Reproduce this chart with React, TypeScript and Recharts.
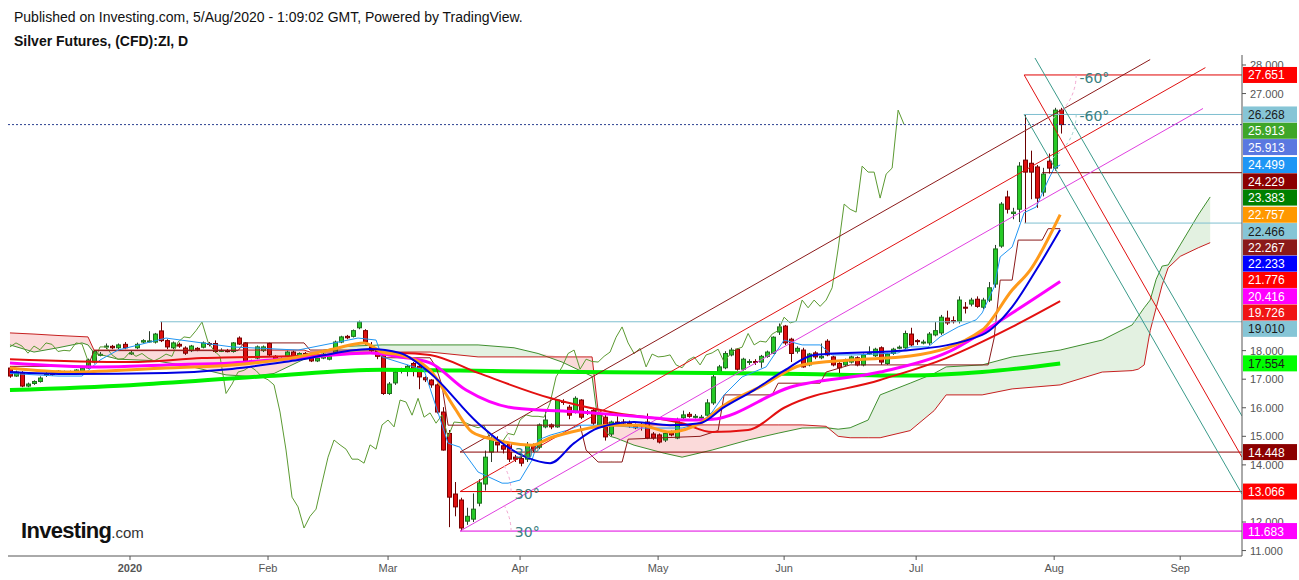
import React from "react";
import { ComposedChart, XAxis, YAxis, Line, Area, Bar, ReferenceLine, ReferenceDot } from "recharts";

const W = 1299;
const H = 580;
const PLOT_TOP = 55;
const PLOT_BOTTOM = 556;
const Y_MIN = 10.81;
const Y_MAX = 28.35;
const X_MIN = -0.33;
const X_MAX = 205.3;

// ---- candles (one per trading day, index 0 = early Dec 2019) ----
const candleOpen = [
  17.39, 17.11, 17.22, 16.76, 16.85, 16.92, 17.15, 17.2, 17.2, 17.25, 17.25, 17.18, 17.28, 17.39, 17.6, 17.85, 18.14, 18.15, 18.1, 18.22,
  17.9, 18.1, 18.3, 18.33, 18.3, 18.69, 18.35, 18.1, 18.22, 18.09, 18.0, 18.08, 18.12, 18.25, 18.25, 18.0, 18.0, 17.97, 18.44, 18.27,
  17.64, 17.74, 18.0, 18.25, 17.8, 17.7, 17.8, 17.95, 17.8, 17.9, 17.74, 17.64, 17.74, 17.7, 17.9, 18.3, 18.5, 18.5, 18.8, 18.7,
  18.13, 18.0, 17.85, 16.5, 16.87, 17.3, 17.28, 17.55, 17.45, 17.05, 16.97, 16.8, 15.85, 15.1, 12.98, 12.77, 12.03, 12.1, 12.66, 13.33,
  14.45, 14.8, 14.67, 14.75, 14.27, 14.22, 14.2, 14.67, 14.62, 15.33, 15.4, 15.33, 16.22, 16.02, 15.85, 16.27, 15.85, 15.9, 15.4, 15.67,
  15.08, 15.5, 15.5, 15.45, 15.35, 15.4, 15.5, 15.08, 15.05, 14.87, 15.12, 14.94, 15.65, 15.77, 15.7, 15.65, 15.74, 16.17, 17.22, 17.4,
  17.85, 18.05, 17.35, 17.6, 17.62, 17.6, 17.8, 17.9, 18.65, 18.86, 18.4, 17.98, 18.02, 17.5, 17.92, 17.75, 18.33, 17.78, 17.55, 17.5,
  17.6, 17.75, 17.5, 17.9, 17.82, 18.1, 17.55, 17.9, 18.1, 18.1, 18.58, 18.35, 18.3, 18.27, 18.55, 18.62, 19.14, 19.05, 19.03, 19.52,
  19.63, 19.8, 19.52, 19.77, 20.33, 21.66, 23.38, 22.8, 22.95, 24.67, 24.56, 24.43, 23.55, 24.63, 24.39, 26.42,
];
const candleHigh = [
  17.45, 17.3, 17.28, 16.88, 16.96, 17.1, 17.25, 17.28, 17.32, 17.3, 17.3, 17.35, 17.42, 17.72, 18.02, 17.95, 18.25, 18.2, 18.25, 18.3,
  18.0, 18.28, 18.4, 18.68, 18.62, 19.01, 18.4, 18.32, 18.28, 18.15, 18.2, 18.12, 18.32, 18.3, 18.36, 18.08, 18.06, 18.3, 18.5, 18.3,
  17.68, 18.18, 18.18, 18.28, 17.84, 17.76, 18.0, 18.0, 17.94, 17.95, 17.78, 17.78, 17.92, 17.84, 18.35, 18.52, 18.55, 18.74, 19.05, 18.75,
  18.3, 18.05, 17.9, 16.9, 17.3, 17.4, 17.5, 17.6, 17.5, 17.1, 17.0, 16.85, 16.02, 15.22, 13.4, 12.85, 12.5, 13.0, 13.5, 14.5,
  15.0, 15.0, 14.85, 14.8, 14.35, 14.3, 14.8, 14.75, 15.45, 15.9, 15.45, 16.3, 16.3, 16.1, 16.4, 16.3, 15.92, 16.0, 15.8, 15.75,
  15.55, 15.7, 15.6, 15.55, 15.45, 15.5, 15.8, 15.15, 15.1, 15.15, 15.2, 15.65, 15.9, 15.85, 15.78, 15.75, 16.3, 17.15, 17.5, 17.98,
  18.1, 18.08, 17.75, 17.7, 17.7, 17.85, 18.0, 18.5, 18.95, 18.9, 18.45, 18.15, 18.1, 17.92, 17.98, 18.25, 18.4, 17.82, 17.6, 17.72,
  17.82, 17.8, 17.9, 18.15, 18.1, 18.15, 17.92, 18.1, 18.18, 18.7, 18.8, 18.4, 18.38, 18.65, 19.0, 19.25, 19.4, 19.2, 19.9, 19.7,
  19.85, 19.9, 19.85, 20.4, 21.7, 23.2, 23.6, 23.0, 24.6, 26.268, 25.0, 24.5, 24.4, 24.9, 26.5, 26.5,
];
const candleLow = [
  17.05, 17.08, 16.72, 16.72, 16.8, 16.88, 17.08, 17.12, 17.16, 17.2, 17.2, 17.15, 17.25, 17.36, 17.55, 17.8, 18.05, 18.05, 18.05, 18.05,
  17.85, 18.05, 18.25, 18.28, 18.25, 18.3, 18.05, 18.05, 18.1, 17.85, 17.95, 17.98, 18.08, 18.15, 17.92, 17.95, 17.94, 17.93, 18.2, 17.6,
  17.55, 17.7, 17.95, 17.8, 17.66, 17.65, 17.76, 17.76, 17.76, 17.7, 17.6, 17.6, 17.7, 17.66, 17.88, 18.26, 18.4, 18.46, 18.75, 18.2,
  17.95, 17.7, 16.45, 16.45, 16.8, 17.2, 17.1, 17.1, 16.65, 16.9, 16.7, 15.8, 14.5, 11.82, 12.2, 11.683, 11.9, 12.0, 12.55, 13.1,
  14.1, 14.45, 14.4, 14.1, 14.1, 13.95, 14.1, 14.45, 14.55, 15.28, 15.25, 15.3, 16.1, 15.6, 15.8, 15.6, 15.75, 15.4, 15.3, 14.85,
  15.0, 15.4, 15.4, 15.3, 15.25, 15.2, 14.9, 14.88, 14.75, 14.8, 15.0, 14.9, 15.6, 15.65, 15.62, 15.58, 15.7, 16.1, 17.15, 17.35,
  17.8, 17.3, 17.3, 17.5, 17.5, 17.4, 17.75, 17.88, 18.55, 18.2, 17.6, 17.9, 17.4, 17.45, 17.7, 17.7, 17.8, 17.45, 17.1, 17.45,
  17.55, 17.45, 17.45, 17.85, 17.78, 17.5, 17.5, 17.85, 18.05, 18.05, 18.15, 18.2, 18.22, 18.2, 18.5, 18.55, 18.9, 18.95, 18.95, 19.3,
  19.55, 19.5, 19.45, 19.7, 20.2, 21.6, 22.8, 22.6, 22.5, 22.466, 23.3, 23.0, 23.4, 24.2, 24.3, 25.6,
];
const candleClose = [
  17.11, 17.25, 16.76, 16.83, 16.92, 17.04, 17.18, 17.18, 17.28, 17.27, 17.23, 17.32, 17.38, 17.67, 17.98, 17.87, 18.16, 18.1, 18.2, 18.1,
  17.92, 18.22, 18.35, 18.34, 18.58, 18.35, 18.13, 18.27, 18.16, 17.91, 18.16, 18.03, 18.27, 18.22, 17.97, 18.01, 17.99, 18.27, 18.23, 17.64,
  17.6, 18.13, 18.13, 17.85, 17.7, 17.72, 17.95, 17.8, 17.9, 17.74, 17.64, 17.74, 17.88, 17.8, 18.3, 18.48, 18.45, 18.7, 19.0, 18.3,
  18.0, 17.8, 16.5, 16.83, 17.25, 17.31, 17.45, 17.3, 17.08, 16.98, 16.8, 15.85, 14.52, 12.87, 12.53, 11.79, 12.2, 12.45, 13.37, 14.27,
  14.87, 14.7, 14.55, 14.2, 14.2, 14.06, 14.7, 14.55, 15.4, 15.57, 15.33, 16.27, 16.2, 15.74, 16.33, 15.67, 15.82, 15.46, 15.75, 14.98,
  15.5, 15.48, 15.47, 15.37, 15.3, 15.38, 14.94, 14.94, 14.8, 15.1, 15.05, 15.57, 15.75, 15.7, 15.7, 15.67, 16.17, 17.08, 17.43, 17.9,
  18.02, 17.35, 17.7, 17.62, 17.6, 17.8, 17.95, 18.47, 18.83, 18.27, 17.9, 18.08, 17.43, 17.88, 17.78, 17.8, 17.85, 17.5, 17.4, 17.67,
  17.78, 17.5, 17.85, 17.92, 18.05, 17.6, 17.88, 18.05, 18.12, 18.6, 18.2, 18.33, 18.3, 18.58, 18.7, 19.17, 18.97, 19.03, 19.77, 19.5,
  19.77, 19.55, 19.77, 20.2, 21.56, 23.13, 22.95, 22.85, 24.46, 24.25, 24.25, 23.34, 24.18, 24.39, 26.42, 25.913,
];

// ---- indicator lines as [barIndex, price] ----
const ma200Pts = [[0, 16.62], [20, 16.79], [43, 17.11], [62, 17.33], [75, 17.3], [95, 17.25], [117, 17.22], [132, 17.18], [150, 17.13], [162, 17.25], [175, 17.55]];
const ma100Pts = [[0, 17.7], [20, 17.6], [32, 17.74], [48, 17.81], [60, 17.92], [65, 17.92], [70, 17.85], [78, 17.22], [90, 16.34], [100, 15.85], [112, 15.46], [117, 15.15], [123, 15.22], [129, 16.0], [145, 16.97], [156, 17.74], [167, 18.83], [175, 19.73]];
const ma50Pts = [[0, 17.57], [15, 17.43], [26, 17.5], [37, 17.57], [48, 17.74], [60, 17.92], [65, 17.78], [70, 17.57], [76, 16.62], [84, 15.99], [95, 15.85], [106, 15.67], [112, 15.57], [117, 15.6], [130, 16.72], [145, 17.25], [156, 17.92], [167, 19.32], [175, 20.42]];
const ema20Pts = [[0, 17.39], [10, 17.25], [26, 17.39], [37, 17.5], [48, 17.78], [54, 18.06], [59, 18.27], [62, 17.95], [65, 17.85], [70, 17.32], [74, 16.02], [77, 15.15], [81, 14.87], [87, 14.69], [90, 14.94], [95, 15.22], [100, 15.39], [105, 15.39], [110, 15.15], [115, 15.46], [119, 16.09], [125, 16.73], [132, 17.5], [140, 17.67], [150, 17.81], [162, 18.72], [167, 20.12], [170, 20.82], [175, 22.76]];
const sma20Pts = [[0, 17.25], [10, 17.18], [26, 17.22], [37, 17.36], [48, 17.67], [60, 18.06], [65, 17.92], [70, 17.22], [78, 15.46], [86, 14.27], [90, 14.06], [94, 14.76], [98, 15.29], [104, 15.5], [110, 15.39], [115, 15.46], [119, 16.02], [124, 16.62], [129, 17.3], [134, 17.85], [150, 18.02], [162, 18.55], [167, 19.53], [171, 20.82], [175, 22.23]];
const tenkanPts = [[0, 17.2], [8, 17.11], [12, 17.11], [15, 17.67], [18, 18.02], [26, 18.44], [32, 18.27], [37, 18.13], [48, 18.02], [54, 18.27], [58, 18.44], [61, 18.37], [62, 17.78], [69, 17.32], [73, 14.76], [75, 14.62], [78, 13.75], [82, 13.36], [83, 13.36], [85, 13.47], [87, 14.17], [88, 14.87], [90, 15.04], [93, 15.22], [95, 15.39], [100, 15.39], [105, 15.29], [112, 15.29], [115, 15.46], [117, 15.85], [119, 16.45], [122, 17.08], [126, 17.43], [129, 18.37], [132, 18.2], [135, 18.2], [137, 17.85], [141, 17.85], [148, 17.92], [150, 18.13], [153, 18.13], [155, 18.48], [158, 18.83], [161, 19.08], [162, 19.32], [164, 20.23], [165, 21.28], [167, 21.63], [169, 22.83], [171, 23.03], [173, 23.97], [174, 24.39], [175, 24.5]];
const kijunPts = [[0, 17.45], [13, 17.45], [14, 18.0], [38, 18.0], [39, 18.27], [49, 18.27], [50, 18.02], [61, 18.02], [62, 17.75], [70, 17.75], [71, 17.42], [72, 16.77], [73, 15.39], [95, 15.39], [96, 14.52], [98, 14.1], [102, 14.1], [103, 14.9], [115, 15.0], [118, 15.2], [119, 16.45], [127, 16.45], [128, 16.86], [135, 16.86], [136, 17.25], [140, 17.5], [163, 17.5], [164, 18.44], [165, 20.47], [167, 20.47], [168, 21.87], [172, 21.87], [173, 22.27], [175, 22.27]];

// ---- Ichimoku cloud, leading spans A and B (shifted ahead) ----
const cloudIndex = [0, 4, 8, 12, 13, 14, 18, 24, 30, 36, 40, 44, 48, 49, 50, 52, 56, 62, 70, 78, 84, 88, 92, 96, 97, 98, 100, 101, 104, 109, 112, 117, 123, 128, 132, 136, 138, 140, 143, 145, 150, 154, 156, 162, 167, 175, 182, 187, 188, 189, 190, 191, 192, 193, 195, 198, 200];
const spanA = [18.2, 17.95, 18.1, 18.27, 18.2, 17.92, 17.7, 17.65, 17.45, 17.15, 17.1, 17.2, 17.6, 17.7, 17.8, 18.0, 18.15, 18.2, 18.2, 18.2, 18.1, 17.9, 17.6, 17.2, 17.1, 15.5, 15.0, 14.94, 14.69, 14.41, 14.27, 14.52, 14.87, 15.11, 15.29, 15.3, 15.25, 15.3, 15.57, 16.45, 16.86, 17.2, 17.43, 17.5, 17.78, 18.02, 18.37, 18.9, 19.2, 19.5, 19.77, 20.5, 20.96, 21.0, 21.7, 22.75, 23.38];
const spanB = [18.62, 18.58, 18.53, 18.49, 18.48, 18.02, 18.02, 18.02, 18.02, 18.02, 18.02, 18.02, 18.02, 18.02, 17.95, 17.95, 17.95, 17.95, 17.95, 17.78, 17.78, 17.78, 17.78, 17.78, 17.78, 15.9, 15.4, 15.4, 15.4, 15.4, 15.4, 15.4, 15.4, 15.4, 15.4, 15.35, 15.0, 14.95, 14.95, 14.95, 15.2, 15.9, 16.45, 16.45, 16.66, 16.8, 17.25, 17.3, 17.35, 17.5, 18.7, 19.5, 20.3, 20.9, 21.3, 21.6, 21.78];
const CHIKOU_SHIFT = 26;

// ---- axis ticks ----
const monthTickIndex = [20, 43, 63, 85, 108, 129, 151, 174, 195];
const monthLabels = ["2020", "Feb", "Mar", "Apr", "May", "Jun", "Jul", "Aug", "Sep"];
const priceTicks = [11, 12, 13, 14, 15, 16, 17, 18, 19, 20, 21, 22, 23, 24, 25, 26, 27, 28];

// ---- right-hand price tags ----
const tagValues = [27.651, 26.268, 25.913, 25.913, 24.499, 24.229, 23.383, 22.757, 22.466, 22.267, 22.233, 21.776, 20.416, 19.726, 19.01, 17.554, 14.448, 13.066, 11.683];
const tagBg = ["#ff0000", "#86c5d6", "#3ea629", "#5a78e0", "#1e96f5", "#8b0000", "#008000", "#ff9800", "#86c5d6", "#8b1a1a", "#0000ff", "#ff0000", "#ff00ff", "#f01414", "#86c5d6", "#00ff00", "#8b0000", "#ff0000", "#ff00ff"];
const tagFg = ["#fff", "#1a1a1a", "#fff", "#fff", "#fff", "#fff", "#fff", "#fff", "#1a1a1a", "#fff", "#fff", "#fff", "#fff", "#fff", "#1a1a1a", "#1a1a1a", "#fff", "#fff", "#fff"];

// ---- drawn objects ----
const CHANNEL_SLOPE = 0.1195; // price per bar
const channelStart = 75;
const horizFrom = [
  { y: 19.01, from: 25, color: "#7fbfd0" },
  { y: 14.448, from: 75, color: "#8b0000" },
  { y: 13.066, from: 75, color: "#e00000" },
  { y: 11.683, from: 75, color: "#e000e0" },
  { y: 27.651, from: 169, color: "#e00000" },
  { y: 26.268, from: 169, color: "#7fbfd0" },
  { y: 22.466, from: 169, color: "#7fbfd0" },
  { y: 24.229, from: 172, color: "#7a0000" },
];

function buildRows() {
  const rows: any[] = [];
  for (let i = 0; i <= 201; i++) rows.push({ i });
  candleOpen.forEach((o, i) => {
    const r = rows[i];
    r.o = o;
    r.h = candleHigh[i];
    r.l = candleLow[i];
    r.c = candleClose[i];
    r.range = [candleLow[i], candleHigh[i]];
  });
  const put = (pts: number[][], key: string) => pts.forEach(([i, v]) => (rows[i][key] = v));
  put(ma200Pts, "ma200");
  put(ma100Pts, "ma100");
  put(ma50Pts, "ma50");
  put(ema20Pts, "ema20");
  put(sma20Pts, "sma20");
  put(tenkanPts, "tenkan");
  put(kijunPts, "kijun");
  cloudIndex.forEach((i, k) => {
    const a = spanA[k];
    const b = spanB[k];
    rows[i].spanA = a;
    rows[i].spanB = b;
    rows[i].cloudG = [b, Math.max(a, b)];
    rows[i].cloudR = [a, Math.max(a, b)];
  });
  candleClose.forEach((c, k) => {
    if (k >= CHIKOU_SHIFT) rows[k - CHIKOU_SHIFT].chikou = c;
  });
  return rows;
}
const rows = buildRows();

// stacking of the right-hand tags so they do not overlap (layout only)
const PX_PER_UNIT = (PLOT_BOTTOM - PLOT_TOP) / (Y_MAX - Y_MIN);
const TAG_H = 16.3;
function tagLayout() {
  let prev = -1e9;
  return tagValues.map((v) => {
    const nat = PLOT_TOP + (Y_MAX - v) * PX_PER_UNIT;
    const y = Math.max(nat, prev + TAG_H);
    prev = y;
    return { shift: y - nat, center: y };
  });
}
const tagPos = tagLayout();

const Candle = (props: any) => {
  const { x, y, width, height, payload } = props;
  if (!payload || payload.o == null) return null;
  const { o, h, l, c } = payload;
  const top0 = height < 0 ? y + height : y;
  const hh = Math.abs(height);
  const span = h - l;
  const ppu = span > 0 ? hh / span : 0;
  const cx = Math.round(x + width / 2) + 0.5;
  const bTop = top0 + (h - Math.max(o, c)) * ppu;
  const bBot = top0 + (h - Math.min(o, c)) * ppu;
  const up = c >= o;
  const wick = up ? "#2b3a2b" : "#6b0000";
  return (
    <g>
      <line x1={cx} x2={cx} y1={top0} y2={top0 + hh} stroke={wick} strokeWidth={1} />
      <rect
        x={cx - 2}
        y={bTop}
        width={4}
        height={Math.max(1, bBot - bTop)}
        fill={up ? "#26c926" : "#dd0f0f"}
        stroke={up ? "#1f6f1f" : "#7a0000"}
        strokeWidth={1}
      />
    </g>
  );
};

const PriceTag = (props: any) => {
  const { viewBox, shift, text, bg, fg } = props;
  if (!viewBox) return null;
  const x = viewBox.x + viewBox.width + 1;
  const y = viewBox.y + shift;
  return (
    <g>
      <rect x={x} y={y - 8} width={54} height={16} fill={bg} />
      <text x={x + 5} y={y + 4.5} fontSize={12} fill={fg} fontFamily="'Liberation Sans', Arial, sans-serif">
        {text}
      </text>
    </g>
  );
};

// price-axis tick: parts hidden by the tags are not drawn (tags sit on top in the reference)
const PriceTick = (props: any) => {
  const { x, y, payload, index } = props;
  let top = y - 6;
  let bot = y + 5;
  for (const t of tagPos) {
    const bt = t.center - 8;
    const bb = t.center + 8;
    if (bb <= top || bt >= bot) continue;
    if (bt <= top && bb >= bot) return null;
    if (bt > top) bot = Math.min(bot, bt);
    else top = Math.max(top, bb);
  }
  if (bot - top < 3) return null;
  const id = "ptclip" + index;
  const dashVisible = !tagPos.some((t) => Math.abs(t.center - y) < 8.5);
  return (
    <g>
      <clipPath id={id}>
        <rect x={x - 2} y={top} width={60} height={bot - top} />
      </clipPath>
      {dashVisible && <line x1={x - 8} x2={x - 4} y1={y} y2={y} stroke="#555" />}
      <text x={x} y={y + 4} fontSize={11} fill="#555" clipPath={`url(#${id})`} fontFamily="'Liberation Sans', Arial, sans-serif">
        {Number(payload.value).toFixed(3)}
      </text>
    </g>
  );
};

const MonthTick = (props: any) => {
  const { x, y, payload } = props;
  const k = monthTickIndex.indexOf(payload.value);
  const label = monthLabels[k] ?? "";
  return (
    <text x={x} y={y + 10} textAnchor="middle" fontSize={11} fill="#555" fontWeight={k === 0 ? "bold" : "normal"} fontFamily="'Liberation Sans', Arial, sans-serif">
      {label}
    </text>
  );
};

const AngleText = (props: any) => {
  const { viewBox, text, dy } = props;
  if (!viewBox) return null;
  return (
    <text
      x={viewBox.x + viewBox.width / 2}
      y={viewBox.y + viewBox.height / 2 + dy}
      textAnchor="middle"
      fontSize={14}
      fill="#3a8080"
      fontFamily="'DejaVu Sans', sans-serif"
    >
      {text}
    </text>
  );
};

// small dashed angle arc drawn at a trend-line origin
const ArcMark = (props: any) => {
  const { cx, cy, rad = 51, from = 0, to = 30, color = "#f2a6cf" } = props;
  if (cx == null || cy == null) return null;
  const a0 = (from * Math.PI) / 180;
  const a1 = (to * Math.PI) / 180;
  const x0 = cx + rad * Math.cos(a0);
  const y0 = cy - rad * Math.sin(a0);
  const x1 = cx + rad * Math.cos(a1);
  const y1 = cy - rad * Math.sin(a1);
  const sweep = to > from ? 0 : 1;
  return <path d={`M ${x0} ${y0} A ${rad} ${rad} 0 0 ${sweep} ${x1} ${y1}`} fill="none" stroke={color} strokeWidth={1} strokeDasharray="3 3" />;
};

export default function App() {
  const noAnim = { isAnimationActive: false } as const;
  return (
    <div style={{ position: "absolute", left: 0, top: 0, width: W, height: H, background: "#fff", fontFamily: "'Liberation Sans', Arial, sans-serif" }}>
      <div style={{ position: "absolute", left: 14, top: 9, fontSize: 14, color: "#111", whiteSpace: "nowrap" }}>
        Published on Investing.com, 5/Aug/2020 - 1:09:02 GMT, Powered by TradingView.
      </div>
      <div style={{ position: "absolute", left: 14, top: 33, fontSize: 14, fontWeight: "bold", color: "#111", whiteSpace: "nowrap" }}>
        Silver Futures, (CFD):ZI, D
      </div>
      <ComposedChart width={W} height={H} data={rows} margin={{ top: PLOT_TOP, right: 0, bottom: 0, left: 8 }}>
        <XAxis
          dataKey="i"
          type="number"
          domain={[X_MIN, X_MAX]}
          allowDataOverflow
          ticks={monthTickIndex}
          interval={0}
          height={24}
          tickSize={4}
          tickMargin={2}
          stroke="#555"
          tick={<MonthTick />}
        />
        <YAxis
          orientation="right"
          type="number"
          domain={[Y_MIN, Y_MAX]}
          allowDataOverflow
          ticks={priceTicks}
          interval={0}
          width={57}
          tickSize={4}
          tickMargin={4}
          tickLine={false}
          stroke="#555"
          tick={<PriceTick />}
        />
        <Area dataKey="cloudG" type="linear" stroke="none" fill="#e3f1e1" fillOpacity={1} connectNulls {...noAnim} />
        <Area dataKey="cloudR" type="linear" stroke="none" fill="#fbdada" fillOpacity={1} connectNulls {...noAnim} />
        <Line dataKey="spanA" type="linear" stroke="#3f8f2f" strokeWidth={1} dot={false} connectNulls {...noAnim} />
        <Line dataKey="spanB" type="linear" stroke="#c62020" strokeWidth={1} dot={false} connectNulls {...noAnim} />
        <Line dataKey="chikou" type="linear" stroke="#5c9a32" strokeWidth={1} dot={false} connectNulls {...noAnim} />
        <Line dataKey="ma200" type="monotone" stroke="#00f000" strokeWidth={4} dot={false} connectNulls {...noAnim} />
        <Line dataKey="kijun" type="linear" stroke="#8b1a1a" strokeWidth={1} dot={false} connectNulls {...noAnim} />
        <Line dataKey="tenkan" type="linear" stroke="#2196f3" strokeWidth={1} dot={false} connectNulls {...noAnim} />

        {horizFrom.map((h, k) => (
          <ReferenceLine key={"h" + k} segment={[{ x: h.from, y: h.y }, { x: X_MAX, y: h.y }]} stroke={h.color} strokeWidth={1} ifOverflow="hidden" />
        ))}
        <ReferenceLine y={25.913} stroke="#2b3f90" strokeDasharray="2 2" strokeWidth={1} />
        <ReferenceLine segment={[{ x: channelStart, y: 14.448 }, { x: 190, y: 14.448 + CHANNEL_SLOPE * (190 - channelStart) }]} stroke="#8b1a1a" strokeWidth={1} ifOverflow="hidden" />
        <ReferenceLine segment={[{ x: channelStart, y: 13.066 }, { x: 199.2, y: 13.066 + CHANNEL_SLOPE * (199.2 - channelStart) }]} stroke="#e01010" strokeWidth={1} ifOverflow="hidden" />
        <ReferenceLine segment={[{ x: channelStart, y: 11.683 }, { x: 198.8, y: 11.683 + CHANNEL_SLOPE * (198.8 - channelStart) }]} stroke="#e040e0" strokeWidth={1} ifOverflow="hidden" />
        <ReferenceLine segment={[{ x: 169, y: 27.651 }, { x: X_MAX, y: 14.27 }]} stroke="#e01010" strokeWidth={1} ifOverflow="hidden" />
        <ReferenceLine segment={[{ x: 170.8, y: 28.245 }, { x: X_MAX, y: 15.71 }]} stroke="#3a9a8a" strokeWidth={1} ifOverflow="hidden" />
        <ReferenceLine segment={[{ x: 169, y: 26.268 }, { x: X_MAX, y: 12.98 }]} stroke="#3a9a8a" strokeWidth={1} ifOverflow="hidden" />

        <ReferenceDot x={channelStart} y={14.448} r={1} fill="none" stroke="none" shape={(p: any) => <ArcMark {...p} />} />
        <ReferenceDot x={channelStart} y={13.066} r={1} fill="none" stroke="none" shape={(p: any) => <ArcMark {...p} />} />
        <ReferenceDot x={channelStart} y={11.683} r={1} fill="none" stroke="none" shape={(p: any) => <ArcMark {...p} />} />
        <ReferenceDot x={169} y={27.651} r={1} fill="none" stroke="none" shape={(p: any) => <ArcMark {...p} rad={52} from={0} to={-60} color="#f2a6cf" />} />
        <ReferenceDot x={169} y={26.268} r={1} fill="none" stroke="none" shape={(p: any) => <ArcMark {...p} rad={52} from={0} to={-60} color="#9fd0cc" />} />

        <ReferenceDot x={86.2} y={14.448} r={0} fill="none" stroke="none" label={<AngleText text="30°" dy={6} />} />
        <ReferenceDot x={86.2} y={13.066} r={0} fill="none" stroke="none" label={<AngleText text="30°" dy={7} />} />
        <ReferenceDot x={86.2} y={11.683} r={0} fill="none" stroke="none" label={<AngleText text="30°" dy={6} />} />
        <ReferenceDot x={180.7} y={27.651} r={0} fill="none" stroke="none" label={<AngleText text="-60°" dy={8} />} />
        <ReferenceDot x={180.7} y={26.268} r={0} fill="none" stroke="none" label={<AngleText text="-60°" dy={7} />} />

        <Line dataKey="ma100" type="monotone" stroke="#e31010" strokeWidth={2} dot={false} connectNulls {...noAnim} />
        <Line dataKey="ma50" type="monotone" stroke="#ff00ff" strokeWidth={3} dot={false} connectNulls {...noAnim} />
        <Line dataKey="ema20" type="monotone" stroke="#ff9a1a" strokeWidth={3} dot={false} connectNulls {...noAnim} />
        <Line dataKey="sma20" type="monotone" stroke="#0000e0" strokeWidth={2} dot={false} connectNulls {...noAnim} />
        <Bar dataKey="range" barSize={5} shape={<Candle />} {...noAnim} />

        {tagValues.map((v, k) => (
          <ReferenceLine
            key={"t" + k}
            y={v}
            stroke="none"
            label={<PriceTag shift={tagPos[k].shift} text={v.toFixed(3)} bg={tagBg[k]} fg={tagFg[k]} />}
          />
        ))}
      </ComposedChart>
      <div style={{ position: "absolute", left: 21, top: 518, whiteSpace: "nowrap", color: "#111" }}>
        <span style={{ fontSize: 22, fontWeight: "bold", letterSpacing: -0.7 }}>Investing</span>
        <span style={{ fontSize: 15, color: "#333" }}>.com</span>
      </div>
    </div>
  );
}
